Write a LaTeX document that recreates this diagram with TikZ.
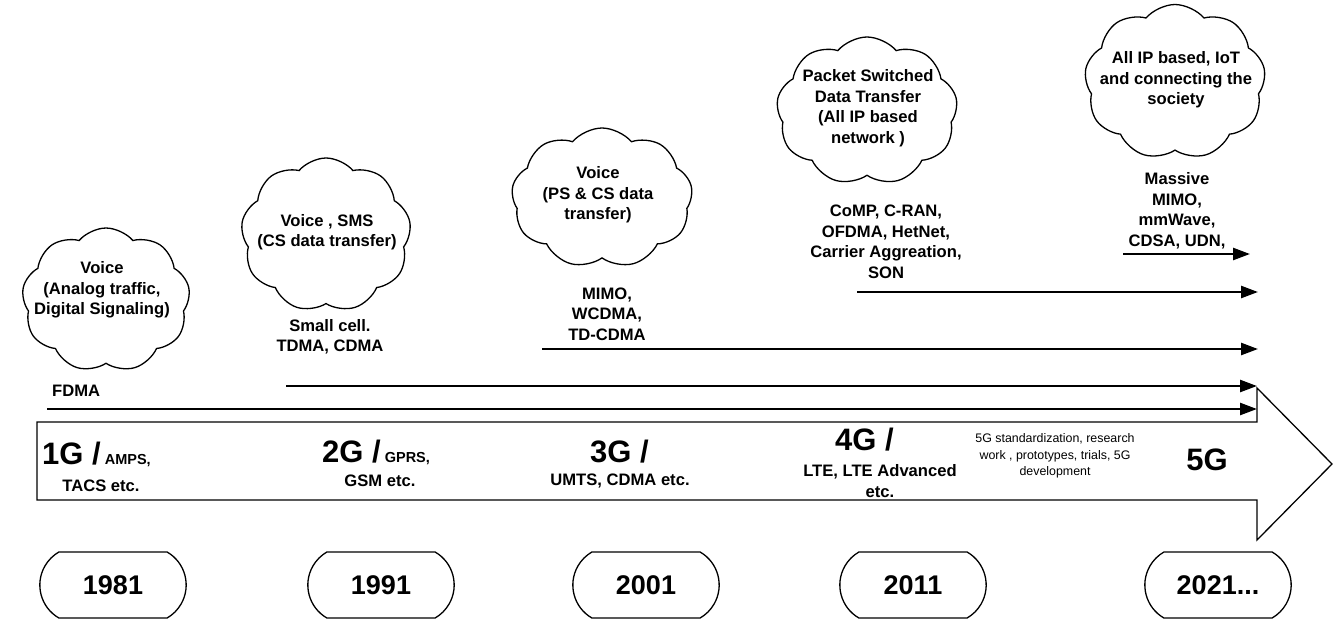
\documentclass[tikz,border=0pt]{standalone}
\usepackage{fontspec}
\setmainfont{Liberation Sans}
\usetikzlibrary{shapes.symbols,shapes.misc,arrows.meta}
\begin{document}
\begin{tikzpicture}[x=1pt,y=-1pt,
  cloudbox/.style={cloud, draw, line width=1.3pt, cloud puffs=9, cloud puff arc=100, cloud ignores aspect, inner sep=0pt},
  lbl/.style={font=\bfseries\fontsize{16.6}{20.5}\selectfont, align=center, inner sep=0pt},
  small/.style={font=\fontsize{12.4}{16.5}\selectfont, align=center, inner sep=0pt},
  yearbox/.style={rounded rectangle, rounded rectangle arc length=120, draw, line width=1.3pt, minimum width=153pt, minimum height=66pt, font=\bfseries\fontsize{27}{30}\selectfont},
  techline/.style={line width=2.5pt, -{Triangle[length=17pt,width=12pt]}},
  gen/.style={inner sep=0pt, anchor=base west},
  ]
\useasboundingbox (0,0) rectangle (1338,622);

% main arrow
\draw[line width=1.3pt] (37,422) -- (1257,422) -- (1257,388) -- (1332,464) -- (1257,540) -- (1257,500) -- (37,500) -- cycle;

% technology lines
\coordinate (f1) at (47,409);   \coordinate (f2) at (1257,409);
\coordinate (g1) at (286,386);  \coordinate (g2) at (1257,386);
\coordinate (h1) at (542,349);  \coordinate (h2) at (1258,349);
\coordinate (i1) at (857,292);  \coordinate (i2) at (1258,292);
\coordinate (j1) at (1123,254); \coordinate (j2) at (1250,254);
\draw[techline] (f1) -- (f2);
\draw[techline] (g1) -- (g2);
\draw[techline] (h1) -- (h2);
\draw[techline] (i1) -- (i2);
\draw[techline] (j1) -- (j2);

% clouds
\node[cloudbox, minimum width=168pt, minimum height=144pt] (c1) at (106,300) {};
\node[cloudbox, minimum width=170pt, minimum height=154pt] (c2) at (326,235) {};
\node[cloudbox, minimum width=181pt, minimum height=140pt] (c3) at (602,198) {};
\node[cloudbox, minimum width=181pt, minimum height=148pt] (c4) at (867,111) {};
\node[cloudbox, minimum width=181pt, minimum height=155pt] (c5) at (1175,82) {};

\node[lbl] (t1) at (102,290) {Voice\\(Analog traffic,\\Digital Signaling)};
\node[lbl] (t2) at (327,232) {Voice , SMS\\(CS data transfer)};
\node[lbl] (t3) at (598,195) {Voice\\(PS \& CS data\\transfer)};
\node[lbl] (t4) at (868,108) {Packet Switched\\Data Transfer\\(All IP based\\network )};
\node[lbl] (t5) at (1176,80) {All IP based, IoT\\and connecting the\\society};

% technology labels
\node[lbl, anchor=west] (fdma) at (52,391) {FDMA};
\node[lbl] (m2) at (330,337) {Small cell.\\TDMA, CDMA};
\node[lbl] (m3) at (607,314) {MIMO,\\WCDMA,\\TD-CDMA};
\node[lbl] (m4) at (886,242) {CoMP, C-RAN,\\OFDMA, HetNet,\\Carrier Aggreation,\\SON};
\node[lbl] (m5) at (1177,211) {Massive\\MIMO,\\mmWave,\\CDSA, UDN,};

% generations
\node[gen] (g1t) at (42,464) {\bfseries\fontsize{31}{33}\selectfont 1G /\fontsize{14.5}{16}\selectfont\ AMPS,};
\node[lbl] (g1b) at (101,486) {TACS etc.};
\node[gen] (g2t) at (322,462) {\bfseries\fontsize{31}{33}\selectfont 2G /\fontsize{14.5}{16}\selectfont\ GPRS,};
\node[lbl] (g2b) at (380,481) {GSM etc.};
\node[gen] (g3t) at (590,462) {\bfseries\fontsize{31}{33}\selectfont 3G /};
\node[lbl] (g3b) at (620,481) {UMTS, CDMA etc.};
\node[gen] (g4t) at (835,450) {\bfseries\fontsize{31}{33}\selectfont 4G /};
\node[lbl] (g4b) at (880,481) {LTE, LTE Advanced\\etc.};
\node[small] (g5s) at (1055,456) {5G standardization, research\\work , prototypes, trials, 5G\\development};
\node[inner sep=0pt, font=\bfseries\fontsize{31}{33}\selectfont] (g5t) at (1207,460) {5G};

% years
\node[yearbox] (y1) at (113,585) {1981};
\node[yearbox] (y2) at (381,585) {1991};
\node[yearbox] (y3) at (646,585) {2001};
\node[yearbox] (y4) at (913,585) {2011};
\node[yearbox] (y5) at (1218,585) {2021...};
\end{tikzpicture}
\end{document}
